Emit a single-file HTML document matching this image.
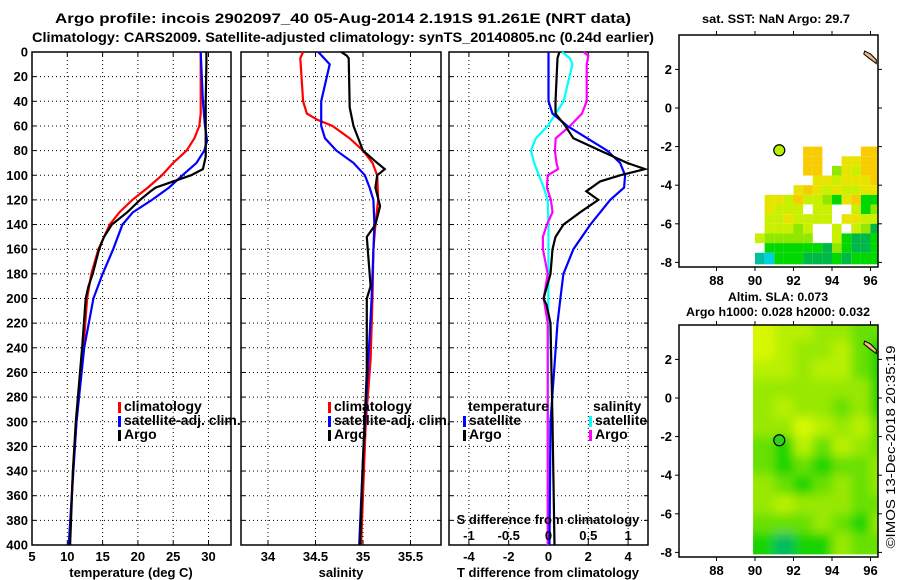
<!DOCTYPE html>
<html><head><meta charset="utf-8">
<style>
body{margin:0;background:#fff;}
svg{display:block;font-family:"Liberation Sans",Arial,sans-serif;font-weight:bold;}
text{fill:#000;}
</style></head>
<body>
<svg id="c" width="900" height="580" viewBox="0 0 900 580">
<text x="343" y="23" font-size="14" text-anchor="middle" textLength="576" lengthAdjust="spacingAndGlyphs">Argo profile: incois 2902097_40 05-Aug-2014 2.191S 91.261E (NRT data)</text>
<text x="343" y="42" font-size="14" text-anchor="middle" textLength="622" lengthAdjust="spacingAndGlyphs">Climatology: CARS2009. Satellite-adjusted climatology: synTS_20140805.nc (0.24d earlier)</text>
<text x="776" y="23" font-size="12" text-anchor="middle" textLength="148" lengthAdjust="spacingAndGlyphs">sat. SST: NaN Argo: 29.7</text>
<text x="778" y="301" font-size="12" text-anchor="middle" textLength="100" lengthAdjust="spacingAndGlyphs">Altim. SLA: 0.073</text>
<text x="778" y="316" font-size="12" text-anchor="middle" textLength="184" lengthAdjust="spacingAndGlyphs">Argo h1000: 0.028 h2000: 0.032</text>
<text transform="translate(895,447) rotate(-90)" font-size="13" font-weight="normal" text-anchor="middle" textLength="203" lengthAdjust="spacingAndGlyphs">©IMOS 13-Dec-2018 20:35:19</text>
</svg>
<script>
// depths
const depthTicks=[0,20,40,60,80,100,120,140,160,180,200,220,240,260,280,300,320,340,360,380,400];
// temperature panel
const tArgoD=[0,10,40,85,95,100,105,110,113,120,130,140,150,160,180,190,200,240,300,340,400];
const tArgoV=[29.7,29.7,29.6,29.6,29.2,27.5,25,22.5,21.8,20.3,18.5,16.3,15.2,14.5,13.6,13.0,12.6,12.1,11.2,10.8,10.4];
const tClimD=[0,50,60,70,80,90,100,110,120,130,140,160,180,200,240,300,340,400];
const tClimV=[28.9,28.9,28.7,28.0,26.9,25.0,23.4,21.4,19.2,17.4,16.0,14.4,13.4,12.8,12.3,11.3,10.8,10.3];
const tSatD=[0,40,60,72,80,90,100,110,120,130,140,160,180,200,240,300,400];
const tSatV=[28.9,29.2,29.5,29.8,29.4,28.3,26.3,24.4,22.0,19.3,17.8,16.5,15.0,13.7,12.4,11.3,10.2];
const tTicks=[5,10,15,20,25,30];
// salinity panel
const sClimD=[0,5,40,50,55,60,70,80,90,100,120,140,160,200,250,300,400];
const sClimV=[34.37,34.34,34.37,34.41,34.52,34.68,34.86,35.0,35.1,35.15,35.16,35.13,35.11,35.1,35.08,35.03,34.98];
const sSatD=[0,10,40,60,70,80,90,100,110,120,140,200,260,330,400];
const sSatV=[34.53,34.65,34.56,34.56,34.6,34.72,34.9,35.02,35.07,35.11,35.12,35.09,35.05,35.0,34.96];
const sArgoD=[0,3,5,45,60,80,90,95,100,110,125,140,150,170,190,200,260,330,400];
const sArgoV=[34.77,34.83,34.85,34.86,34.9,35.0,35.15,35.23,35.15,35.13,35.18,35.13,35.04,35.06,35.08,35.04,35.04,35.0,34.97];
const sTicks=[34,34.5,35,35.5];
// difference panel
const dTSatD=[0,40,50,60,70,80,90,100,110,120,140,160,180,200,220,300,400];
const dTSatV=[0,0,0.2,0.95,1.95,2.95,3.6,3.85,3.8,3.1,2.1,1.25,0.75,0.6,0.45,0.1,0.05];
const dTArgoD=[0,5,40,50,60,70,80,90,95,100,105,113,120,130,140,150,160,180,200,205,220,300,400];
const dTArgoV=[0.55,0.45,0.35,0.35,0.85,1.25,2.6,3.95,4.85,3.6,2.6,1.9,2.5,1.6,0.75,0.35,0.2,0.1,-0.25,-0.1,0.1,0.2,0.3];
const dSSatD=[0,5,10,40,60,70,80,90,100,110,120,140,400];
const dSSatV=[0.17,0.27,0.3,0.19,-0.01,-0.16,-0.22,-0.18,-0.12,-0.06,-0.01,0,-0.01];
const dSArgoD=[0,3,10,40,50,60,70,80,90,95,100,110,120,130,140,150,160,180,200,220,400];
const dSArgoV=[0.44,0.5,0.48,0.48,0.42,0.27,0.09,0.08,0.1,0.12,-0.01,-0.02,0.03,0.05,-0.02,-0.07,-0.07,-0.01,-0.06,-0.01,-0.01];
const dTTicks=[-4,-2,0,2,4];
const dSTicks=[-1,-0.5,0,0.5,1];
// maps
const lonTicks=[88,90,92,94,96];
const latTicks=[2,0,-2,-4,-6,-8];
const sstGrid=[
"0000011000011",
"0000011002211",
"0000011042311",
"0000002232221",
"0000212323322",
"0223133452155",
"0233303300354",
"0332333302233",
"0333430030346",
"3444440035665",
"0555555645665",
"7855566656555"];
const slaGrid=[
"1223344","1233245","2232245","3333335","3233435","3312324",
"4524234","4545443","3454343","3233344","4443453","5655344"];
const argoLon=91.261, argoLat=-2.191;

const svg=document.getElementById('c');
const NS='http://www.w3.org/2000/svg';
function el(tag,attrs,parent){const e=document.createElementNS(NS,tag);for(const k in attrs)e.setAttribute(k,attrs[k]);(parent||svg).appendChild(e);return e;}
const Y0=52,Y1=545;
const yD=d=>Y0+(Y1-Y0)*d/400;

function panel(name,x0,x1,vmin,vmax,ticks,depthLabels){
  const xs=v=>x0+(x1-x0)*(v-vmin)/(vmax-vmin);
  const g=el('g',{});
  
  
  depthTicks.forEach(d=>{
    const y=yD(d);
    if(d>0&&d<400){const l=el('line',{x1:x0,x2:x1,y1:y,y2:y,stroke:'#000','stroke-width':1,'stroke-dasharray':'1,3'},g);
      }
    el('line',{x1:x0,x2:x0+4,y1:y,y2:y,stroke:'#000'},g);
    el('line',{x1:x1-4,x2:x1,y1:y,y2:y,stroke:'#000'},g);
    if(depthLabels){const t=el('text',{x:28,y:y+4.5,'font-size':13,'text-anchor':'end'},g);t.textContent=d;
      }
  });
  ticks.forEach(v=>{const x=xs(v);
    if(x>x0+1&&x<x1-1){const l=el('line',{x1:x,x2:x,y1:Y0,y2:Y1,stroke:'#000','stroke-width':1,'stroke-dasharray':'1,3'},g);
      }
    el('line',{x1:x,x2:x,y1:Y1-4,y2:Y1,stroke:'#000'},g);el('line',{x1:x,x2:x,y1:Y0,y2:Y0+4,stroke:'#000'},g);
  });
  const r=el('rect',{x:x0,y:Y0,width:x1-x0,height:Y1-Y0,fill:'none',stroke:'#000','stroke-width':1.5},g);
  
  return {xs,g};
}
function line(p,D,V,color,name,sc){
  const pts=D.map((d,i)=>p.xs(sc?V[i]*sc:V[i]).toFixed(1)+','+yD(d).toFixed(1)).join(' ');
  const l=el('polyline',{points:pts,fill:'none',stroke:color,'stroke-width':2.2,'stroke-linejoin':'miter'},p.g);
  
}
function txt(x,y,s,name,size,anchor){const t=el('text',{x:x,y:y,'font-size':size||13,'text-anchor':anchor||'start'});t.textContent=s;
  return t;}
function legend(x,y,color,label,name){
  const b=el('rect',{x:x,y:y-8,width:3,height:11,fill:color});
  
  if(label)txt(x+6,y+1,label,name,14);
}

// panel 1
const p1=panel('temperature-panel',32,231,5,5+199/7.06,tTicks,true);
line(p1,tClimD,tClimV,'#f00','temperature-climatology-line');
line(p1,tSatD,tSatV,'#00f','temperature-satellite-line');
line(p1,tArgoD,tArgoV,'#000','temperature-argo-line');
tTicks.forEach(v=>txt(p1.xs(v),561,v,'temperature-tick-label',13,'middle'));
txt(131,577,'temperature (deg C)','temperature-axis-title',13,'middle');
legend(118,410,'#f00','climatology','legend-climatology');
legend(118,424,'#00f','satellite-adj. clim.','legend-satellite-adj');
legend(118,438,'#000','Argo','legend-argo');

// panel 2
const p2=panel('salinity-panel',241,441,34-27/95,34+173/95,sTicks,false);
line(p2,sClimD,sClimV,'#f00','salinity-climatology-line');
line(p2,sSatD,sSatV,'#00f','salinity-satellite-line');
line(p2,sArgoD,sArgoV,'#000','salinity-argo-line');
sTicks.forEach(v=>txt(p2.xs(v),561,v,'salinity-tick-label',13,'middle'));
txt(341,577,'salinity','salinity-axis-title',13,'middle');
legend(328,410,'#f00','climatology','legend-climatology-2');
legend(328,424,'#00f','satellite-adj. clim.','legend-satellite-adj-2');
legend(328,438,'#000','Argo','legend-argo-2');

// panel 3
const p3=panel('difference-panel',449,648,-5,5,dTTicks,false);
line(p3,dSSatD,dSSatV,'#0ff','salinity-satellite-diff-line',4);
line(p3,dSArgoD,dSArgoV,'#f0f','salinity-argo-diff-line',4);
line(p3,dTSatD,dTSatV,'#00f','temperature-satellite-diff-line');
line(p3,dTArgoD,dTArgoV,'#000','temperature-argo-diff-line');
dTTicks.forEach(v=>txt(p3.xs(v),561,v,'t-diff-tick-label',13,'middle'));
dSTicks.forEach(v=>txt(p3.xs(v*4),540,v,'s-diff-tick-label',13,'middle'));
txt(548,524,'S difference from climatology','s-diff-axis-title',13,'middle');
txt(548,577,'T difference from climatology','t-diff-axis-title',13,'middle');
txt(468,411,'temperature','legend-temperature-header',14);
txt(593,411,'salinity','legend-salinity-header',14);
legend(463,424,'#00f','satellite','legend-t-satellite');
legend(463,438,'#000','Argo','legend-t-argo');
legend(589,424,'#0ff','satellite','legend-s-satellite');
legend(589,438,'#f0f','Argo','legend-s-argo');

// maps
const MX0=679,MX1=878;
const lonX=lon=>755+(lon-90)*19.25;
const sstCol={1:'#f8cc00',2:'#e8e400',3:'#c8f000',4:'#90e800',5:'#00d800',6:'#00b848',7:'#00c0a0',8:'#00d0e0'};
const slaCol={1:'#d8f800',2:'#b8f000',3:'#98e800',4:'#68e000',5:'#18d400',6:'#00bc60'};
function mapFrame(name,y0,y1,lat0y){
  const latY=lat=>lat0y-lat*19.3;
  const g=el('g',{});
  
  return {g,latY,y0,y1};
}
function mapAxes(m,lonLabelY){
  lonTicks.forEach(l=>{const x=lonX(l);el('line',{x1:x,x2:x,y1:m.y1,y2:m.y1+4,stroke:'#000'},m.g);el('line',{x1:x,x2:x,y1:m.y0-4,y2:m.y0,stroke:'#000'},m.g);
    txt(x,lonLabelY,l,'lon-tick-label',13,'middle');});
  latTicks.forEach(l=>{const y=m.latY(l);el('line',{x1:MX0-4,x2:MX0,y1:y,y2:y,stroke:'#000'},m.g);el('line',{x1:MX1,x2:MX1+4,y1:y,y2:y,stroke:'#000'},m.g);
    txt(672,y+4.5,l,'lat-tick-label',13,'end');});
  const r=el('rect',{x:MX0,y:m.y0,width:MX1-MX0,height:m.y1-m.y0,fill:'none',stroke:'#000','stroke-width':1.5},m.g);
  
  const isl=el('polygon',{points:[[95.7,2.95],[96.0,2.8],[96.3,2.5],[96.3,2.3],[95.9,2.6],[95.65,2.8]].map(p=>lonX(p[0])+','+m.latY(p[1])).join(' '),fill:'#f0b880',stroke:'#000','stroke-width':1},m.g);
  
}
function marker(m,fill){
  const c=el('circle',{cx:lonX(argoLon),cy:m.latY(argoLat),r:5.5,fill:fill,stroke:'#000','stroke-width':1.2},m.g);
  
}
// SST map
const m1=mapFrame('sst-map',35,267,108);
sstGrid.forEach((row,ri)=>{[...row].forEach((ch,ci)=>{if(ch==='0')return;
  const lon=90+ci*0.5,lat=-2-ri*0.5;const x=lonX(lon),y=m1.latY(lat);
  const w=Math.min(lonX(lon+0.5),MX1)-x;
  const r=el('rect',{x:x,y:y,width:w,height:ri===11?m1.latY(-8.1)-y:9.65,fill:sstCol[ch]},m1.g);
  });});
mapAxes(m1,285);marker(m1,'#b8f000');
// SLA map
const m2=mapFrame('sla-map',325,557,398);
const defs=el('defs',{});
const cp=el('clipPath',{id:'slaclip'},defs);
el('rect',{x:lonX(89.9),y:325,width:MX1-lonX(89.9),height:m2.latY(-8.1)-325},cp);
const f=el('filter',{id:'blur',x:'-10%',y:'-10%',width:'120%',height:'120%'},defs);
el('feGaussianBlur',{stdDeviation:5},f);
const cg=el('g',{'clip-path':'url(#slaclip)'},m2.g);
const bg=el('g',{filter:'url(#blur)'},cg);
slaGrid.forEach((row,ri)=>{[...row].forEach((ch,ci)=>{
  const lonA=ci===0?88:90+ci, lonB=ci===6?98:91+ci;
  const latA=ri===0?6:4-ri, latB=ri===11?-10:3-ri;
  const x=lonX(lonA),y=m2.latY(latA);
  const r=el('rect',{x:x,y:y,width:lonX(lonB)-x,height:m2.latY(latB)-y,fill:slaCol[ch]},bg);
  });});
mapAxes(m2,575);marker(m2,'#30d020');
</script>
</body></html>
